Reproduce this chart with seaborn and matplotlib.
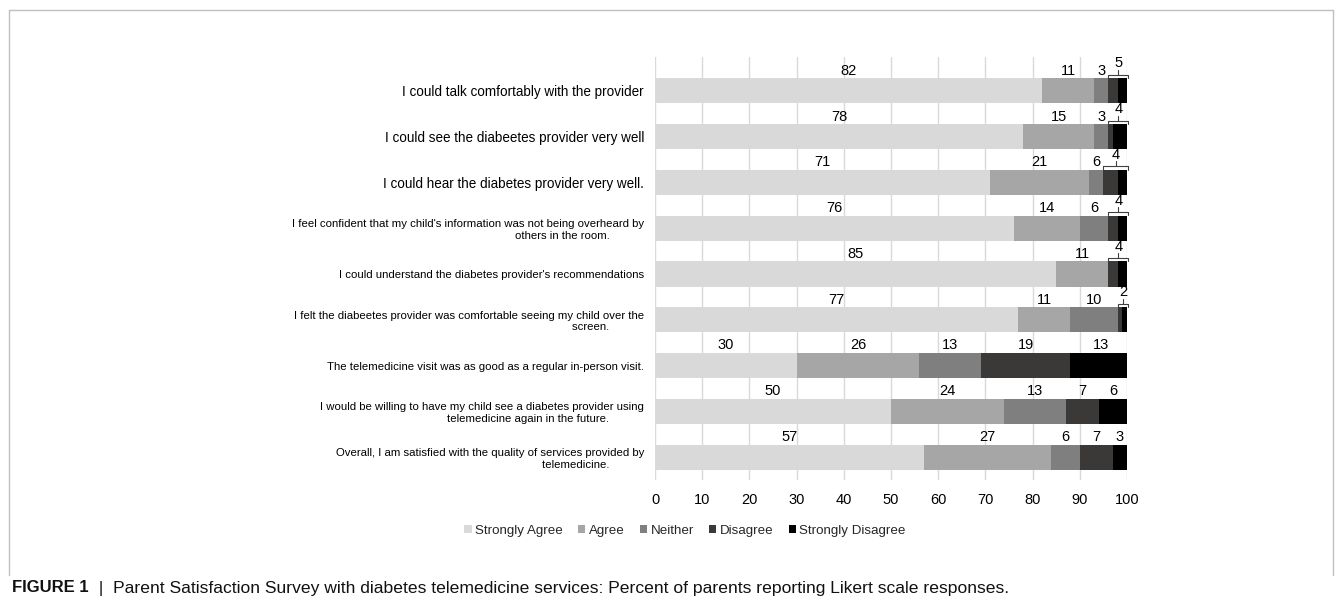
import matplotlib
matplotlib.use("Agg")
import matplotlib.pyplot as plt
from matplotlib.lines import Line2D
from matplotlib.patches import Patch
import numpy as np
import pandas as pd
import seaborn as sns

# survey items (top to bottom)
questions = [
    "I could talk comfortably with the provider",
    "I could see the diabeetes provider very well",
    "I could hear the diabetes provider very well.",
    "I feel confident that my child's information was not being overheard by\nothers in the room.",
    "I could understand the diabetes provider's recommendations",
    "I felt the diabeetes provider was comfortable seeing my child over the\nscreen.",
    "The telemedicine visit was as good as a regular in-person visit.",
    "I would be willing to have my child see a diabetes provider using\ntelemedicine again in the future.",
    "Overall, I am satisfied with the quality of services provided by\ntelemedicine.",
]
responses = ["Strongly Agree", "Agree", "Neither", "Disagree", "Strongly Disagree"]
colors = ["#d9d9d9", "#a6a6a6", "#7f7f7f", "#3b3838", "#000000"]

# segment widths (percent) as drawn
strongly_agree = [82, 78, 71, 76, 85, 77, 30, 50, 57]
agree = [11, 15, 21, 14, 11, 11, 26, 24, 27]
neither = [3, 3, 3, 6, 0, 10, 13, 13, 6]
disagree = [2, 1, 3, 2, 2, 1, 19, 7, 7]
strongly_disagree = [2, 3, 2, 2, 2, 1, 13, 6, 3]

# label texts printed above the bars
neither_labels = ["3", "3", "6", "6", "", "10", "13", "13", "6"]
disagree_labels = ["", "", "", "", "", "", "19", "7", "7"]
sd_labels = ["", "", "", "", "", "", "13", "6", "3"]
bracket_labels = ["5", "4", "4", "4", "4", "2", "", "", ""]

segments = [strongly_agree, agree, neither, disagree, strongly_disagree]
vals = np.array(segments, dtype=float)
cum = np.cumsum(vals, axis=0)
starts = cum - vals

sns.set_style("white")
plt.rcParams["font.family"] = ["Liberation Sans", "DejaVu Sans"]

W, H = 1342, 608
fig = plt.figure(figsize=(W / 100, H / 100), dpi=100)
ax = fig.add_axes([655 / W, 1 - 480 / H, 472 / W, 423 / H])

df = pd.DataFrame({"question": questions})
# draw cumulative bars from the last segment to the first so they stack
for k in range(len(responses) - 1, -1, -1):
    df["cum"] = cum[k]
    sns.barplot(data=df, x="cum", y="question", orient="h", color=colors[k],
                saturation=1, width=0.55, ax=ax, linewidth=0)

ax.set_xlim(0, 100)
ax.set_ylim(8.5, -0.74)
ax.set_xticks(range(0, 101, 10))
ax.xaxis.grid(True, color="#d9d9d9", linewidth=1)
ax.set_axisbelow(True)
for s in ax.spines.values():
    s.set_visible(False)
ax.set_xlabel("")
ax.set_ylabel("")
ax.tick_params(axis="both", length=0, labelsize=10.5, colors="#000000")
ax.tick_params(axis="y", pad=8, labelsize=9.75)
ax.tick_params(axis="x", pad=9)

# squeeze the long labels toward the narrow label column of the reference
fig.canvas.draw()
renderer = fig.canvas.get_renderer()


def width_of(s, size):
    t = fig.text(0, 0, s, fontsize=size)
    w = t.get_window_extent(renderer).width
    t.remove()
    return w


max_w = 255
new_texts, sizes = [], []
for q in questions:
    lines = q.split("\n")
    w = width_of(lines[0], 9.75)
    size = 9.75 if w <= 265 else max(8.2, 9.75 * max_w / w)
    if len(lines) > 1:
        sp = (width_of("a" + " " * 10 + "a", size) - width_of("aa", size)) / 10
        lines[1] = lines[1] + " " * int(round(33 / sp))
    new_texts.append("\n".join(lines))
    sizes.append(size)
ax.set_yticks(range(len(questions)), labels=new_texts)
for t, size in zip(ax.get_yticklabels(), sizes):
    t.set_fontsize(size)
    t.set_multialignment("right")

lab_kw = dict(ha="center", va="center", fontsize=10.5, color="#000000")
for i in range(len(questions)):
    ax.text(starts[0][i] + vals[0][i] / 2, i - 0.44, str(strongly_agree[i]), **lab_kw)
    ax.text(starts[1][i] + vals[1][i] / 2, i - 0.44, str(agree[i]), **lab_kw)
    if neither_labels[i]:
        ax.text(starts[2][i] + vals[2][i] / 2, i - 0.44, neither_labels[i], **lab_kw)
    if disagree_labels[i]:
        ax.text(starts[3][i] + vals[3][i] / 2, i - 0.44, disagree_labels[i], **lab_kw)
    if sd_labels[i]:
        ax.text(min(starts[4][i] + vals[4][i] / 2, 98.5), i - 0.44, sd_labels[i], **lab_kw)
    if bracket_labels[i]:
        x0 = starts[3][i]
        x1 = min(cum[4][i], 100) + 0.3
        xm = (x0 + x1) / 2
        ax.plot([x0, x0, x1, x1], [i - 0.28, i - 0.35, i - 0.35, i - 0.28],
                color="#404040", lw=0.8, clip_on=False)
        ax.plot([xm, xm], [i - 0.35, i - 0.46], color="#404040", lw=0.8, clip_on=False)
        ax.text(xm, i - 0.6, bracket_labels[i], **lab_kw)

handles = [Patch(facecolor=c, edgecolor="none") for c in colors]
fig.legend(handles, responses, loc="center", bbox_to_anchor=(685 / W, 1 - 531 / H),
           ncol=5, frameon=False, fontsize=9.6, handlelength=0.55, handleheight=0.55,
           handletextpad=0.25, columnspacing=1.15)

# figure frame
line_kw = dict(color="#c0c0c0", lw=1)
fig.add_artist(Line2D([9 / W, 9 / W], [1 - 10 / H, 1 - 575 / H], **line_kw))
fig.add_artist(Line2D([9 / W, 1333 / W], [1 - 10 / H, 1 - 10 / H], **line_kw))
fig.add_artist(Line2D([1333 / W, 1333 / W], [1 - 10 / H, 1 - 575 / H], **line_kw))

# caption
t1 = fig.text(12 / W, 1 - 588 / H, "FIGURE 1", fontsize=12, fontweight="bold",
              va="center", color="#111111")
bb = t1.get_window_extent(renderer)
fig.text(bb.x1 / W, 1 - 588 / H,
         "  |  Parent Satisfaction Survey with diabetes telemedicine services: "
         "Percent of parents reporting Likert scale responses.",
         fontsize=12.6, va="center", color="#111111")

fig.savefig("out.png", dpi=100)
